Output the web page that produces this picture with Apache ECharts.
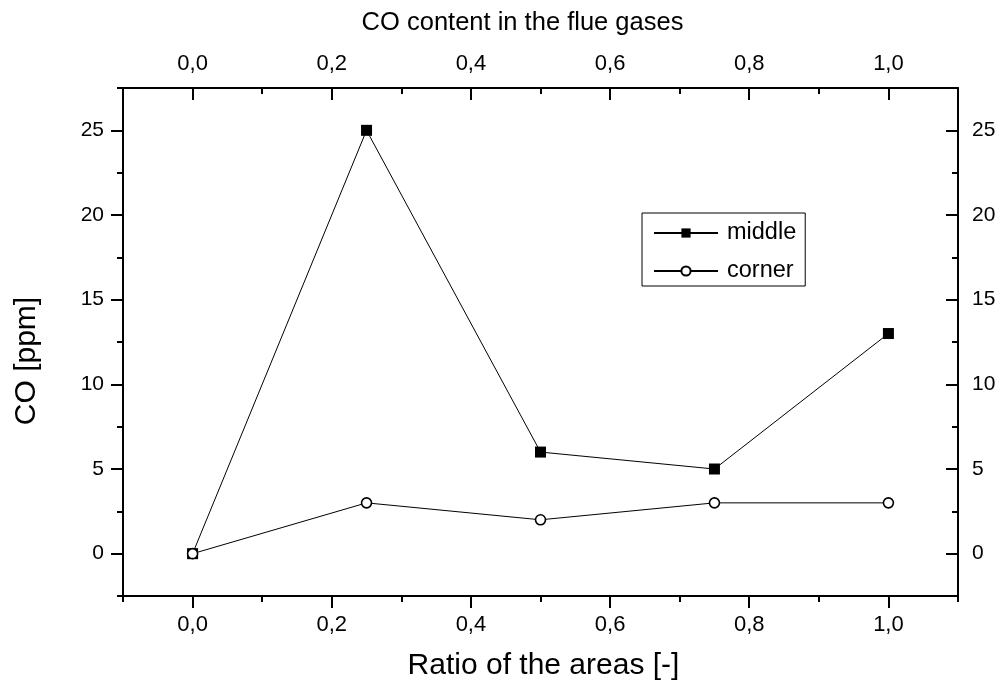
<!DOCTYPE html>
<html>
<head>
<meta charset="utf-8">
<script src="https://cdn.jsdelivr.net/npm/echarts@6/dist/echarts.min.js"></script>
<style>
  html, body { margin: 0; padding: 0; background: #fff; }
  #chart { width: 1000px; height: 684px; }
</style>
</head>
<body>
<div id="chart"></div>
<script>
// Measured CO concentrations at different area ratios
const ratios = [0, 0.25, 0.5, 0.75, 1.0];
const middle = [0, 25, 6, 5, 13];
const corner = [0, 3, 2, 3, 3];

// Tick positions (major ones carry labels)
const xMajor = [0, 0.2, 0.4, 0.6, 0.8, 1.0];
const xMinor = [-0.1, 0.1, 0.3, 0.5, 0.7, 0.9, 1.1];
const yMajor = [0, 5, 10, 15, 20, 25];
const yMinor = [-2.5, 2.5, 7.5, 12.5, 17.5, 22.5, 27.5];

const FONT = '"Liberation Sans", Arial, sans-serif';
const X_MIN = -0.1, X_MAX = 1.1, Y_MIN = -2.5, Y_MAX = 27.5;

const decimalComma = v => v.toFixed(1).replace('.', ',');

function xAxisDef(position, major, withLine, opts) {
  return Object.assign({
    type: 'value', position: position, min: X_MIN, max: X_MAX,
    splitLine: { show: false },
    axisLine: { show: withLine, onZero: false, lineStyle: { color: '#000', width: 2 } },
    axisTick: {
      show: true, inside: position === 'top', length: major ? 12 : 6,
      customValues: major ? xMajor : xMinor,
      lineStyle: { color: '#000', width: 2 }
    },
    axisLabel: { show: false }
  }, opts || {});
}

function yAxisDef(position, major, withLine, opts) {
  return Object.assign({
    type: 'value', position: position, min: Y_MIN, max: Y_MAX,
    splitLine: { show: false },
    axisLine: { show: withLine, onZero: false, lineStyle: { color: '#000', width: 2 } },
    axisTick: {
      show: true, inside: position === 'right', length: major ? 12 : 6,
      customValues: major ? yMajor : yMinor,
      lineStyle: { color: '#000', width: 2 }
    },
    axisLabel: { show: false }
  }, opts || {});
}

const chart = echarts.init(document.getElementById('chart'), null, { renderer: 'canvas' });

chart.setOption({
  animation: false,
  backgroundColor: '#fff',
  textStyle: { fontFamily: FONT, color: '#000' },
  grid: { left: 123, right: 42, top: 88, bottom: 88, containLabel: false, outerBoundsMode: 'none' },
  legend: {
    orient: 'vertical',
    left: 642, top: 213,
    padding: [8, 9, 3, 11],
    itemWidth: 64, itemHeight: 11.5, itemGap: 14,
    borderColor: '#000', borderWidth: 1,
    textStyle: { fontFamily: FONT, fontSize: 23.5, color: '#000', padding: [0, 0, 0, 4] },
    data: ['middle', 'corner']
  },
  xAxis: [
    xAxisDef('bottom', true, true, {
      name: 'Ratio of the areas [-]', nameLocation: 'middle', nameGap: 55,
      nameTextStyle: { fontFamily: FONT, fontSize: 30, color: '#000', padding: [0, 0, 0, 6] },
      axisLabel: { show: true, customValues: xMajor, margin: 18, fontSize: 22, fontFamily: FONT, color: '#000', formatter: decimalComma }
    }),
    xAxisDef('bottom', false, false),
    xAxisDef('top', true, true, {
      name: 'CO content in the flue gases', nameLocation: 'middle', nameGap: 52,
      nameTextStyle: { fontFamily: FONT, fontSize: 25.5, color: '#000', padding: [0, 36, 0, 0] },
      axisLabel: { show: true, customValues: xMajor, margin: 13, fontSize: 22, fontFamily: FONT, color: '#000', formatter: decimalComma }
    }),
    xAxisDef('top', false, false)
  ],
  yAxis: [
    yAxisDef('left', true, true, {
      name: 'CO [ppm]', nameLocation: 'middle', nameGap: 81, nameRotate: 90,
      nameTextStyle: { fontFamily: FONT, fontSize: 30, color: '#000', padding: [0, 38, 0, 0] },
      axisLabel: { show: true, customValues: yMajor, margin: 19, fontSize: 21, fontFamily: FONT, color: '#000' }
    }),
    yAxisDef('left', false, false),
    yAxisDef('right', true, true, {
      axisLabel: { show: true, customValues: yMajor, margin: 14, fontSize: 21, fontFamily: FONT, color: '#000' }
    }),
    yAxisDef('right', false, false)
  ],
  series: [
    {
      name: 'middle', type: 'line', xAxisIndex: 0, yAxisIndex: 0,
      data: ratios.map((r, i) => [r, middle[i]]),
      symbol: 'rect', symbolSize: 11,
      lineStyle: { color: '#000', width: 1 },
      itemStyle: { color: '#000', borderColor: '#000', borderWidth: 0 },
      emphasis: { disabled: true }
    },
    {
      name: 'corner', type: 'line', xAxisIndex: 0, yAxisIndex: 0,
      data: ratios.map((r, i) => [r, corner[i]]),
      symbol: 'circle', symbolSize: 10,
      lineStyle: { color: '#000', width: 1 },
      itemStyle: { color: '#fff', borderColor: '#000', borderWidth: 1.6 },
      emphasis: { disabled: true }
    }
  ]
});
</script>
</body>
</html>
